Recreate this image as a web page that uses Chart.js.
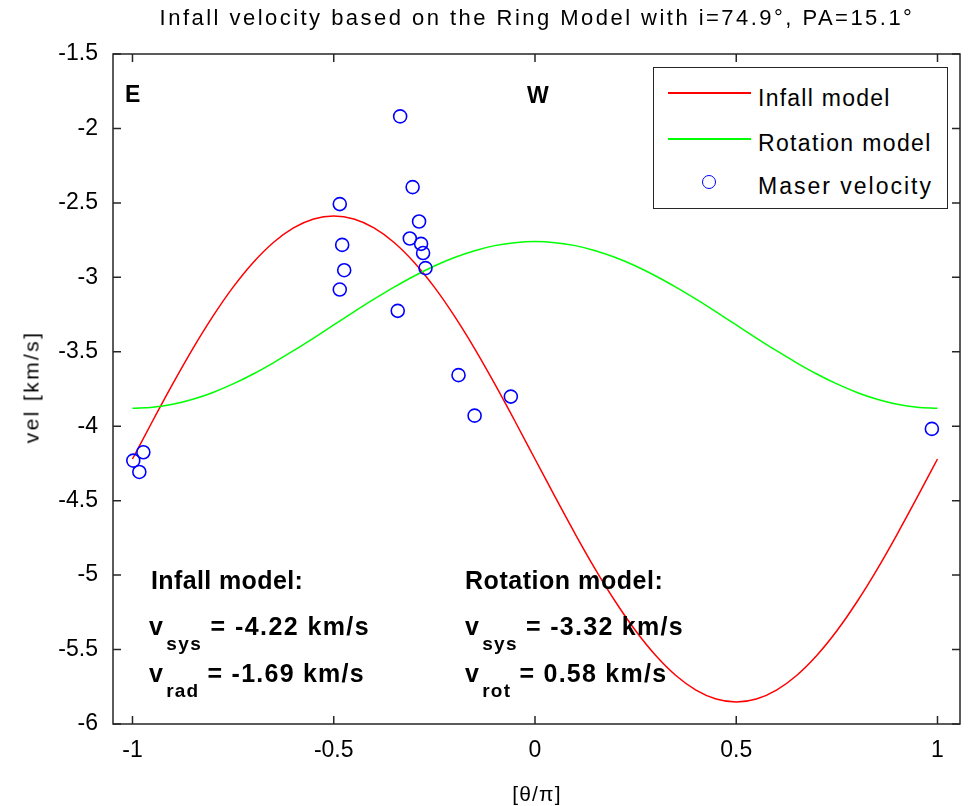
<!DOCTYPE html>
<html><head><meta charset="utf-8">
<script src="https://cdn.jsdelivr.net/npm/chart.js@4/dist/chart.umd.min.js"></script>
<style>
html,body{margin:0;padding:0;background:#fff;}
#wrap{position:relative;width:972px;height:806px;overflow:hidden;background:#fff;}
#c{position:absolute;left:0;top:0;}
.t{position:absolute;white-space:nowrap;font-family:"Liberation Sans Narrow","Liberation Sans",Arial,sans-serif;color:#000;line-height:1;}
.b{font-weight:bold;}
.t sub{font-size:19px;position:relative;top:15px;vertical-align:baseline;line-height:0;margin-left:2px;}
.lg{position:absolute;}
</style></head><body>
<div id="wrap">
<canvas id="c" width="972" height="806"></canvas>
<div class="t" id="title" data-w="755" style="left:537px;top:18px;font-size:22px;transform:translate(-50%,-50%)">Infall velocity based on the Ring Model with i=74.9°, PA=15.1°</div>
<div class="t" id="ylab" data-w="113" style="left:31px;top:387px;font-size:21px;transform:translate(-50%,-50%) rotate(-90deg)">vel [km/s]</div>
<div class="t" id="xlab" data-w="50" style="left:537px;top:793px;font-size:21px;transform:translate(-50%,-50%)">[θ/π]</div>
<div class="t b" style="left:125px;top:94px;font-size:23px;transform:translateY(-50%)">E</div>
<div class="t b" style="left:527px;top:95px;font-size:23px;transform:translateY(-50%)">W</div>
<div class="t b" data-w="152" style="left:151px;top:580px;font-size:25px;transform:translateY(-50%)">Infall model:</div>
<div class="t b" data-w="221" style="left:149px;top:626px;font-size:25px;transform:translateY(-50%)">v<sub>sys</sub> = -4.22 km/s</div>
<div class="t b" data-w="216" style="left:149px;top:673px;font-size:25px;transform:translateY(-50%)">v<sub>rad</sub> = -1.69 km/s</div>
<div class="t b" data-w="198" style="left:465px;top:580px;font-size:25px;transform:translateY(-50%)">Rotation model:</div>
<div class="t b" data-w="219" style="left:465px;top:626px;font-size:25px;transform:translateY(-50%)">v<sub>sys</sub> = -3.32 km/s</div>
<div class="t b" data-w="202" style="left:465px;top:673px;font-size:25px;transform:translateY(-50%)">v<sub>rot</sub> = 0.58 km/s</div>
<div class="lg" style="left:653px;top:67px;width:293px;height:140px;border:1.5px solid #262626;background:#fff;"></div>
<div class="lg" style="left:668px;top:92px;width:83px;height:2px;background:#ff0000;"></div>
<div class="lg" style="left:668px;top:138px;width:83px;height:2px;background:#00ff00;"></div>
<div class="lg" style="left:702px;top:175px;width:14px;height:14px;border:1.6px solid #0000ff;border-radius:50%;box-sizing:border-box;"></div>
<div class="t" data-w="133" style="left:758px;top:98px;font-size:23px;transform:translateY(-50%)">Infall model</div>
<div class="t" data-w="174" style="left:758px;top:143px;font-size:23px;transform:translateY(-50%)">Rotation model</div>
<div class="t" data-w="175" style="left:758px;top:186px;font-size:23px;transform:translateY(-50%)">Maser velocity</div>
</div>
<script>
// ---- data ----
const xTicks = [-1, -0.5, 0, 0.5, 1];
const yTicks = [-6, -5.5, -5, -4.5, -4, -3.5, -3, -2.5, -2, -1.5];

const modelTheta = [-1, -0.95, -0.9, -0.85, -0.8, -0.75, -0.7, -0.65, -0.6, -0.55, -0.5,
  -0.45, -0.4, -0.35, -0.3, -0.25, -0.2, -0.15, -0.1, -0.05, 0,
  0.05, 0.1, 0.15, 0.2, 0.25, 0.3, 0.35, 0.4, 0.45, 0.5,
  0.55, 0.6, 0.65, 0.7, 0.75, 0.8, 0.85, 0.9, 0.95, 1];
const infallVel = [-4.22, -3.965, -3.716, -3.479, -3.261, -3.066, -2.900, -2.766, -2.668, -2.608, -2.588,
  -2.608, -2.668, -2.766, -2.900, -3.066, -3.261, -3.479, -3.716, -3.965, -4.22,
  -4.475, -4.724, -4.961, -5.179, -5.374, -5.540, -5.674, -5.772, -5.832, -5.852,
  -5.832, -5.772, -5.674, -5.540, -5.374, -5.179, -4.961, -4.724, -4.475, -4.22];
const rotationVel = [-3.88, -3.873, -3.853, -3.819, -3.773, -3.716, -3.649, -3.574, -3.493, -3.408, -3.32,
  -3.232, -3.147, -3.066, -2.991, -2.924, -2.867, -2.821, -2.787, -2.767, -2.76,
  -2.767, -2.787, -2.821, -2.867, -2.924, -2.991, -3.066, -3.147, -3.232, -3.32,
  -3.408, -3.493, -3.574, -3.649, -3.716, -3.773, -3.819, -3.853, -3.873, -3.88];

const maserTheta = [-0.998, -0.983, -0.973, -0.485, -0.479, -0.474, -0.485, -0.341, -0.335,
  -0.311, -0.304, -0.288, -0.283, -0.278, -0.272, -0.190, -0.150, -0.060, 0.986];
const maserVel = [-4.231, -4.307, -4.175, -2.508, -2.782, -2.952, -3.082, -3.225, -1.919,
  -2.739, -2.394, -2.625, -2.775, -2.837, -2.938, -3.657, -3.929, -3.801, -4.018];

const seriesNames = ['Infall model', 'Rotation model', 'Maser velocity'];

// ---- chart ----
const FONT = '"Liberation Sans Narrow", "Liberation Sans", Arial, sans-serif';
Chart.defaults.font.family = FONT;
Chart.defaults.color = '#000';

const framePlugin = {
  id: 'frame',
  afterDatasetsDraw(chart) {
    const { ctx, chartArea: a, scales: { x, y } } = chart;
    ctx.save();
    ctx.strokeStyle = '#262626';
    ctx.lineWidth = 1.5;
    ctx.strokeRect(a.left, a.top, a.right - a.left, a.bottom - a.top);
    const L = 8;
    ctx.beginPath();
    x.ticks.forEach(t => {
      const p = x.getPixelForValue(t.value);
      ctx.moveTo(p, a.bottom); ctx.lineTo(p, a.bottom - L);
      ctx.moveTo(p, a.top); ctx.lineTo(p, a.top + L);
    });
    y.ticks.forEach(t => {
      const p = y.getPixelForValue(t.value);
      ctx.moveTo(a.left, p); ctx.lineTo(a.left + L, p);
      ctx.moveTo(a.right, p); ctx.lineTo(a.right - L, p);
    });
    ctx.stroke();
    ctx.restore();
  }
};

new Chart(document.getElementById('c'), {
  type: 'scatter',
  data: {
    datasets: [
      { label: seriesNames[0], data: modelTheta.map((t, i) => ({ x: t, y: infallVel[i] })),
        showLine: true, borderColor: '#ff0000', borderWidth: 1.5, pointRadius: 0,
        cubicInterpolationMode: 'monotone', order: 2 },
      { label: seriesNames[1], data: modelTheta.map((t, i) => ({ x: t, y: rotationVel[i] })),
        showLine: true, borderColor: '#00ff00', borderWidth: 1.5, pointRadius: 0,
        cubicInterpolationMode: 'monotone', order: 1 },
      { label: seriesNames[2], data: maserTheta.map((t, i) => ({ x: t, y: maserVel[i] })),
        showLine: false, pointRadius: 6.5, pointBorderWidth: 1.6, borderColor: '#0000ff',
        pointBorderColor: '#0000ff', pointBackgroundColor: 'rgba(0,0,0,0)', backgroundColor: 'rgba(0,0,0,0)', order: 0 }
    ]
  },
  options: {
    responsive: false,
    animation: false,
    devicePixelRatio: 1,
    layout: { padding: { top: 54, right: 12, left: 0, bottom: 0 } },
    plugins: { legend: { display: false }, tooltip: { enabled: false }, title: { display: false } },
    scales: {
      x: {
        type: 'linear', min: -1.0484, max: 1.0559,
        afterBuildTicks: s => { s.ticks = xTicks.map(v => ({ value: v })); },
        afterFit: s => { s.height = 82; },
        grid: { display: false }, border: { display: false },
        ticks: { callback: v => String(v), font: { size: 23 }, color: '#000', padding: 5, maxRotation: 0, autoSkip: false }
      },
      y: {
        type: 'linear', min: -6, max: -1.5,
        afterBuildTicks: s => { s.ticks = yTicks.map(v => ({ value: v })); },
        afterFit: s => { s.width = 113; },
        grid: { display: false }, border: { display: false },
        ticks: { callback: v => String(v), font: { size: 23 }, color: '#000', padding: 7, autoSkip: false }
      }
    }
  },
  plugins: [framePlugin]
});

// fit overlay text widths
document.querySelectorAll('[data-w]').forEach(el => {
  el.style.letterSpacing = '0px';
  const n = el.textContent.length;
  const nat = el.offsetWidth;
  const w = parseFloat(el.dataset.w);
  el.style.letterSpacing = ((w - nat) / n) + 'px';
});
</script>
</body></html>
